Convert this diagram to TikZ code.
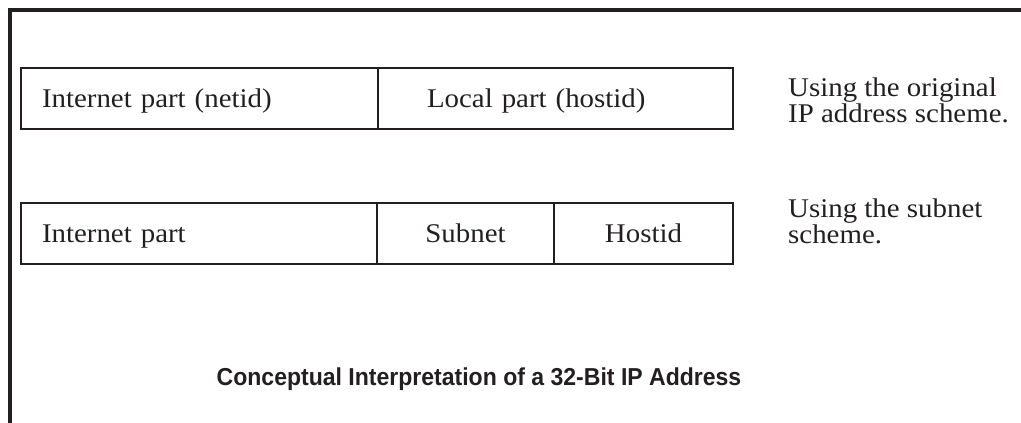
\documentclass[tikz,border=0pt]{standalone}
\usepackage{fontspec}
\setmainfont{Liberation Serif}[FakeStretch=1.07]
\newfontfamily\headfont{Liberation Sans}[FakeStretch=0.94]
\usetikzlibrary{positioning}
\definecolor{ink}{HTML}{231F20}

\begin{document}
\begin{tikzpicture}[
  x=1pt, y=-1pt,
  node distance=0pt,
  field/.style={draw=ink, line width=2pt, outer sep=0pt, inner sep=0pt,
    minimum height=61pt, text=ink, font=\fontsize{27}{27}\selectfont,
    text height=20pt, text depth=2pt},
  note/.style={anchor=base west, align=left, inner sep=0pt, text=ink,
    font=\fontsize{27}{21.5}\selectfont},
  frame/.style={draw=ink, line width=4pt},
]
\useasboundingbox (0,0) rectangle (1021,423);
\draw[frame] (10,425) -- (10,10) -- (1023,10);

% original scheme
\node[field, anchor=north west, inner xsep=21pt, text width=315pt, align=left] (netid) at (21,68) {Internet part (netid)};
\node[field, right=of netid, inner xsep=49pt, text width=257pt, align=left] (hostid) {Local part (hostid)};
\node[note] (orignote) at (788,122.5) {Using the original\\IP address scheme.};

% subnet scheme
\node[field, anchor=north west, inner xsep=21pt, text width=314pt, align=left] (inet) at (21,203) {Internet part};
\node[field, right=of inet, minimum width=177pt] (subnet) {Subnet};
\node[field, right=of subnet, minimum width=179pt] (hostpart) {Hostid};
\node[note] (subnote) at (788,243) {Using the subnet\\scheme.};

\node[anchor=base, inner sep=0pt, text=ink, font=\headfont\bfseries\fontsize{24.5}{24.5}\selectfont] (title) at (479,385) {Conceptual Interpretation of a 32-Bit IP Address};
\end{tikzpicture}
\end{document}
